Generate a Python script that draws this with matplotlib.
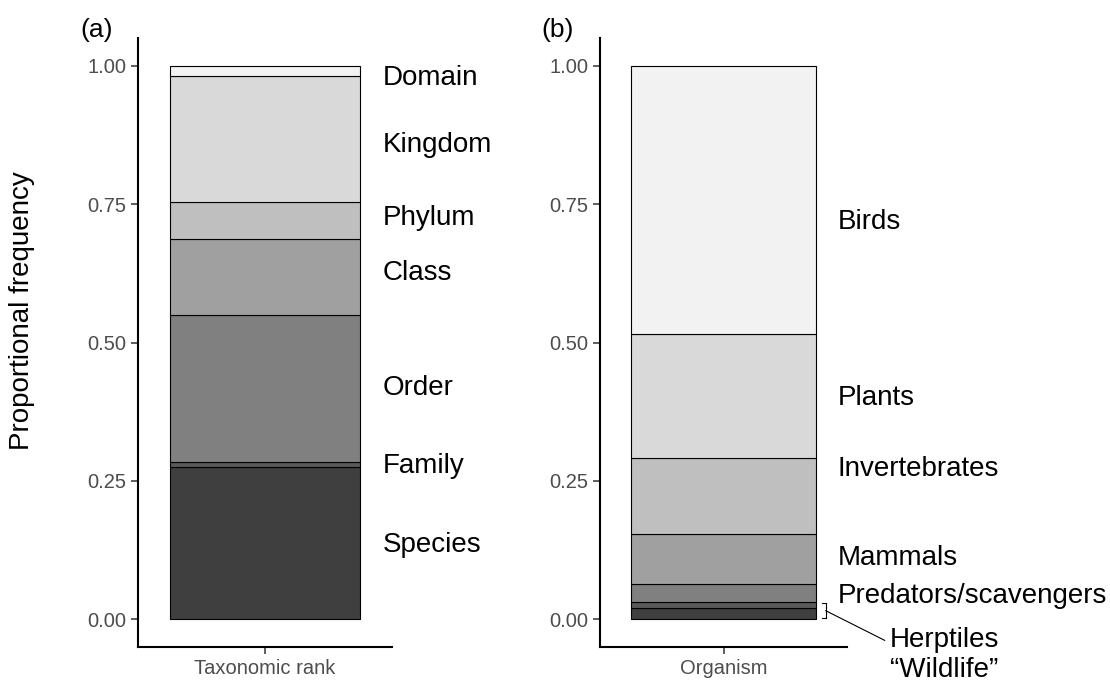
import numpy as np
import matplotlib
matplotlib.use('Agg')
import matplotlib.pyplot as plt

plt.rcParams['font.family'] = ['Liberation Sans', 'DejaVu Sans']

# panel (a): taxonomic rank, bottom to top
ranks = ['Species', 'Family', 'Order', 'Class', 'Phylum', 'Kingdom', 'Domain']
rank_props = [0.276, 0.008, 0.266, 0.137, 0.067, 0.228, 0.018]
rank_label_y = [0.134, 0.277, 0.418, 0.626, 0.724, 0.857, 0.978]

# panel (b): organism, bottom to top
organisms = ['\u201cWildlife\u201d', 'Herptiles', 'Predators/scavengers', 'Mammals',
             'Invertebrates', 'Plants', 'Birds']
org_props = [0.021, 0.010, 0.033, 0.091, 0.136, 0.224, 0.485]
org_label_y = [-0.091, -0.038, 0.042, 0.110, 0.271, 0.400, 0.718]

greys = ['#3f3f3f', '#595959', '#808080', '#a0a0a0', '#bfbfbf', '#d9d9d9', '#f2f2f2']

fig = plt.figure(figsize=(11.1, 6.82), dpi=100)
ax_a = fig.add_axes([138 / 1110, 1 - 647 / 682, 254 / 1110, 609 / 682])
ax_b = fig.add_axes([600 / 1110, 1 - 647 / 682, 247 / 1110, 609 / 682])


def stack(ax, props, title):
    bottom = 0
    for p, c in zip(props, greys):
        ax.bar(1, p, bottom=bottom, width=0.9, color=c, edgecolor='black', linewidth=0.8)
        bottom += p
    ax.set_xlim(0.4, 1.6)
    ax.set_ylim(-0.05, 1.05)
    ax.set_xticks([1])
    ax.set_xticklabels([''])
    ax.set_yticks([0, 0.25, 0.5, 0.75, 1.0])
    ax.set_yticklabels(['0.00', '0.25', '0.50', '0.75', '1.00'])
    ax.tick_params(labelsize=14.5, labelcolor='#4d4d4d', color='#333333', length=5, width=1.1)
    for s in ['top', 'right']:
        ax.spines[s].set_visible(False)
    for s in ['left', 'bottom']:
        ax.spines[s].set_linewidth(1.5)
    ax.set_xlabel(title, fontsize=14.5, color='#4d4d4d', labelpad=0)


stack(ax_a, rank_props, 'Taxonomic rank')
stack(ax_b, org_props, 'Organism')

for name, y in zip(ranks, rank_label_y):
    ax_a.text(1.557, y, name, fontsize=20, va='center', ha='left', clip_on=False)

for name, y in zip(organisms, org_label_y):
    x = 1.807 if y < 0 else 1.556
    ax_b.text(x, y, name, fontsize=20, va='center', ha='left', clip_on=False)

# bracket for the two thin bottom segments
br = sum(org_props[:2])
ax_b.plot([1.478, 1.497, 1.497, 1.478], [br - 0.001, br - 0.001, 0.002, 0.002],
          color='black', lw=0.8, clip_on=False)
ax_b.plot([1.497, 1.783], [br / 2, -0.038], color='black', lw=0.8, clip_on=False)

fig.text(97 / 1110, 1 - 30 / 682, '(a)', fontsize=19, ha='center', va='center')
fig.text(558 / 1110, 1 - 30 / 682, '(b)', fontsize=19, ha='center', va='center')
fig.text(22 / 1110, 1 - 311 / 682, 'Proportional frequency', fontsize=20,
         rotation=90, ha='center', va='center')

fig.savefig('out.png', dpi=100)
